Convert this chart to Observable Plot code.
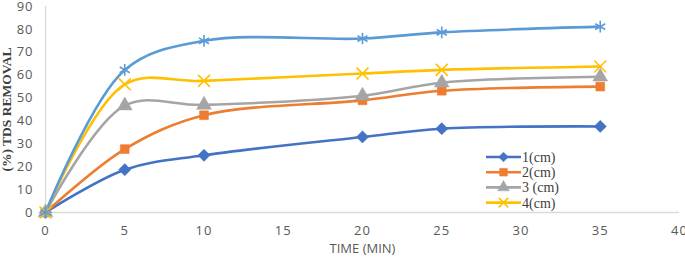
<!DOCTYPE html>
<html>
<head>
<meta charset="utf-8">
<script src="https://cdn.jsdelivr.net/npm/d3@7"></script>
<script src="https://cdn.jsdelivr.net/npm/@observablehq/plot@0.6"></script>
<style>
  html, body { margin: 0; padding: 0; background: #fff; }
  #wrap { position: relative; width: 685px; height: 259px; }
  #legend { position: absolute; left: 484px; top: 148px; }
  #chart g[aria-label="x-axis tick label"] text,
  #chart g[aria-label="y-axis tick label"] text { letter-spacing: 1px; }
</style>
</head>
<body>
<div id="wrap"><div id="chart"></div><svg id="legend" width="100" height="64"></svg></div>
<script>
const time = [0, 5, 10, 20, 25, 35];
const s1 = [0, 18.7, 25.0, 33.0, 36.6, 37.6];
const s2 = [0, 27.7, 42.5, 49.0, 53.2, 55.0];
const s3 = [0, 46.7, 47.0, 51.0, 56.7, 59.3];
const s4 = [0, 56.0, 57.5, 60.7, 62.3, 63.8];
const s5 = [0, 62.3, 75.0, 76.0, 78.7, 81.2];
const seriesNames = ["1(cm)", "2(cm)", "3 (cm)", "4(cm)", "5(cm)"];
const seriesColors = ["#4472C4", "#ED7D31", "#A5A5A5", "#FFC000", "#5B9BD5"];
const seriesSymbols = ["diamond2", "square", "triangle", "times", "asterisk"];
const legendShown = [0, 1, 2, 3];
const xTicks = [0, 5, 10, 15, 20, 25, 30, 35, 40];
const yTicks = [0, 10, 20, 30, 40, 50, 60, 70, 80, 90];

const allSeries = [s1, s2, s3, s4, s5];
const data = [];
allSeries.forEach((vals, i) => vals.forEach((v, j) => data.push({series: seriesNames[i], idx: i, t: time[j], v})));

const filledSym = new Set(["diamond2", "square", "triangle"]);
const marks = [
  Plot.ruleY([0], {stroke: "#d9d9d9", strokeWidth: 1.3}),
  Plot.ruleX([0], {stroke: "#d9d9d9", strokeWidth: 1.3}),
  Plot.axisX({ticks: xTicks, tickSize: 0, tickPadding: 13, fontSize: 13, fill: "#595959",
    fontFamily: "Open Sans, sans-serif", label: "TIME (MIN)", labelAnchor: "center", labelArrow: "none", labelOffset: 40}),
  Plot.axisY({ticks: yTicks, tickSize: 0, tickPadding: 12, fontSize: 13, fill: "#595959",
    fontFamily: "Open Sans, sans-serif", label: null}),
  Plot.axisY({ticks: [], label: "(%) TDS REMOVAL", labelAnchor: "center", labelArrow: "none",
    labelOffset: 44, fontFamily: "Liberation Serif, serif", fontWeight: "bold", fontSize: 13.5, fill: "#404040"})
];
allSeries.forEach((vals, i) => {
  const d = data.filter(r => r.idx === i);
  marks.push(Plot.line(d, {x: "t", y: "v", stroke: seriesColors[i], strokeWidth: 2.6, curve: "catmull-rom"}));
});
allSeries.forEach((vals, i) => {
  const d = data.filter(r => r.idx === i);
  const filled = filledSym.has(seriesSymbols[i]);
  marks.push(Plot.dot(d, {x: "t", y: "v", symbol: () => seriesSymbols[i],
    r: seriesSymbols[i] === "square" ? 5 : 5.5,
    fill: filled ? seriesColors[i] : "none",
    stroke: seriesColors[i], strokeWidth: filled ? 0.5 : 1.6}));
});

const chart = Plot.plot({
  width: 685, height: 259,
  marginLeft: 45, marginRight: 6, marginTop: 6, marginBottom: 47,
  x: {domain: [0, 40]},
  y: {domain: [0, 90]},
  symbol: {type: "identity"},
  style: {background: "#fff", overflow: "visible"},
  marks
});
document.getElementById("chart").appendChild(chart);

// Legend (line + marker swatches)
const lg = d3.select("#legend");
legendShown.forEach((i, k) => {
  const g = lg.append("g").attr("transform", `translate(0, ${9 + k * 15.2})`);
  g.append("line").attr("x1", 2).attr("x2", 37).attr("y1", 0).attr("y2", 0)
    .attr("stroke", seriesColors[i]).attr("stroke-width", 2.6);
  const symMap = {diamond2: d3.symbolDiamond2, square: d3.symbolSquare, triangle: d3.symbolTriangle, times: d3.symbolTimes};
  const filled = filledSym.has(seriesSymbols[i]);
  g.append("path").attr("transform", "translate(19.5,0)")
    .attr("d", d3.symbol(symMap[seriesSymbols[i]], 60)())
    .attr("fill", filled ? seriesColors[i] : "none")
    .attr("stroke", seriesColors[i]).attr("stroke-width", filled ? 0.5 : 1.6);
  g.append("text").attr("x", 38).attr("y", 5).text(seriesNames[i])
    .attr("font-family", "Liberation Serif, serif").attr("font-size", 14).attr("fill", "#404040");
});
</script>
</body>
</html>
